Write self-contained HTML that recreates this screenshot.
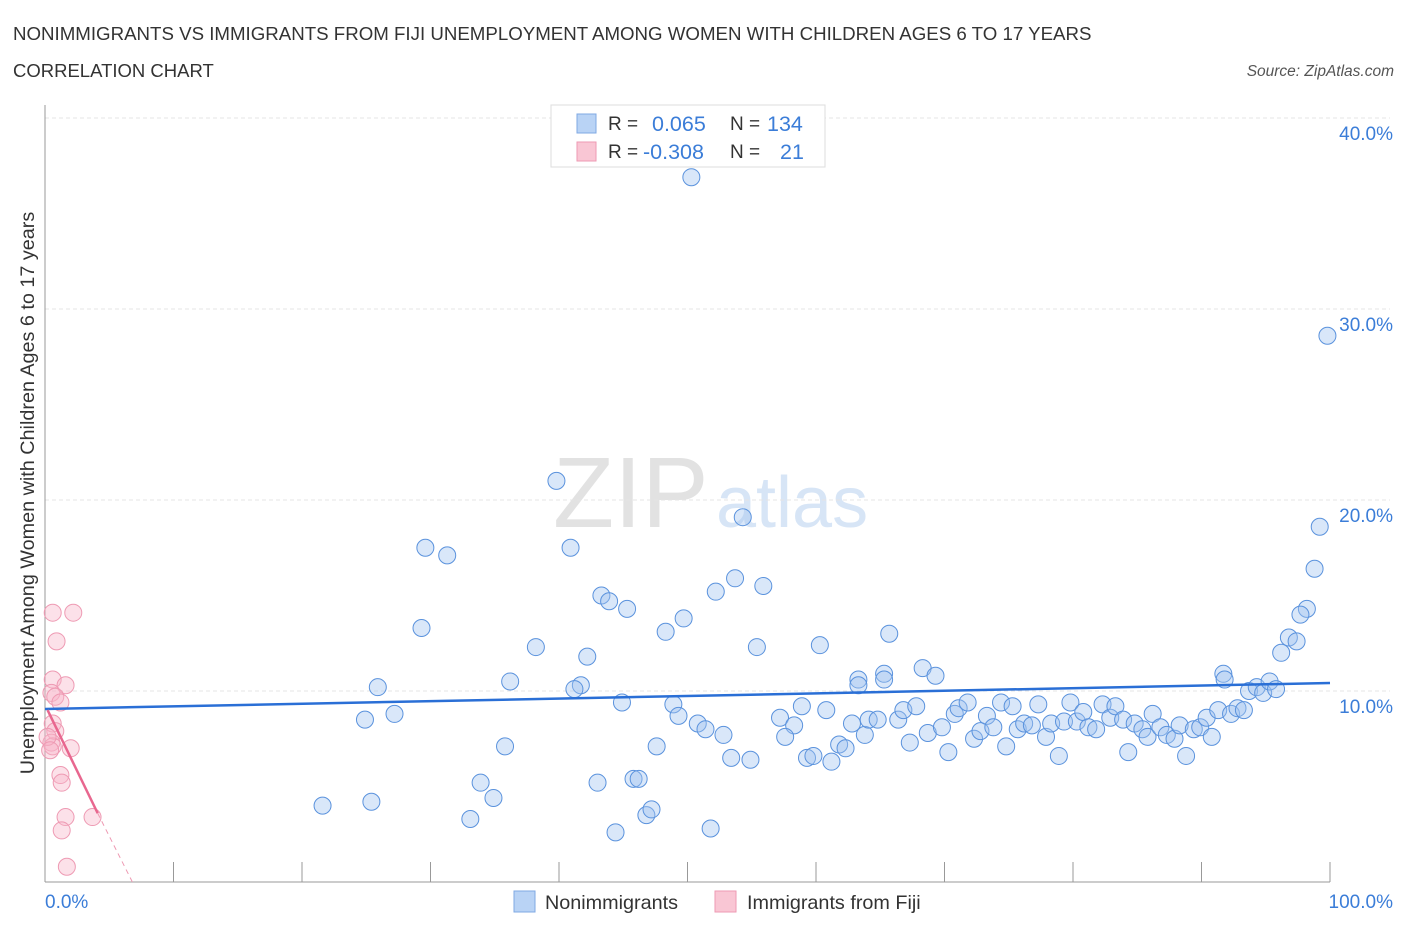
<!DOCTYPE html>
<html><head><meta charset="utf-8"><style>
body{margin:0;background:#fff;font-family:"Liberation Sans",sans-serif;}
svg text{font-family:"Liberation Sans",sans-serif;}
</style></head><body>
<svg width="1406" height="930" xmlns="http://www.w3.org/2000/svg">
<text x="13" y="40" font-size="18.7" fill="#333">NONIMMIGRANTS VS IMMIGRANTS FROM FIJI UNEMPLOYMENT AMONG WOMEN WITH CHILDREN AGES 6 TO 17 YEARS</text>
<text x="13" y="77" font-size="18.5" fill="#333">CORRELATION CHART</text>
<text x="1394" y="76" font-size="15.5" fill="#555" font-style="italic" text-anchor="end">Source: ZipAtlas.com</text>
<g>
<text x="553" y="527" font-size="100" fill="#e2e2e2" font-family="Liberation Serif">ZIP</text>
<text x="716" y="527" font-size="72" fill="#d7e5f6">atlas</text>
</g>
<g id="grid"></g><g id="axes"></g><g id="marks"></g>
<text transform="translate(34,493) rotate(-90)" font-size="19.8" fill="#333" text-anchor="middle">Unemployment Among Women with Children Ages 6 to 17 years</text>
<text x="45" y="908" font-size="19" fill="#3b7dd8">0.0%</text>
<text x="1393" y="908" font-size="19" fill="#3b7dd8" text-anchor="end">100.0%</text>
<g>
<rect x="551" y="105" width="274" height="62" fill="#fff" stroke="#ddd"/>
<rect x="577" y="114" width="19" height="19" fill="#b9d3f5" stroke="#7fa8e3"/>
<rect x="577" y="142" width="19" height="19" fill="#f9c6d4" stroke="#ee9ab3"/>
<text x="608" y="130" font-size="19" fill="#333">R =</text><text x="652" y="131" font-size="21.5" fill="#3b7dd8">0.065</text>
<text x="730" y="130" font-size="19" fill="#333">N =</text><text x="767" y="131" font-size="21.5" fill="#3b7dd8">134</text>
<text x="608" y="158" font-size="19" fill="#333">R =</text><text x="643" y="159" font-size="21.5" fill="#3b7dd8">-0.308</text>
<text x="730" y="158" font-size="19" fill="#333">N =</text><text x="780" y="159" font-size="21.5" fill="#3b7dd8">21</text>
</g>
<g>
<rect x="514" y="891" width="21" height="21" fill="#b9d3f5" stroke="#7fa8e3"/>
<text x="545" y="909" font-size="19.8" fill="#333">Nonimmigrants</text>
<rect x="715" y="891" width="21" height="21" fill="#f9c6d4" stroke="#ee9ab3"/>
<text x="747" y="909" font-size="19.8" fill="#333">Immigrants from Fiji</text>
</g>
</svg>
<script>
const yTicks=[10,20,30,40];
const yTickLabels=["10.0%","20.0%","30.0%","40.0%"];
const xTicks=[10,20,30,40,50,60,70,80,90,100];
const blueX=[50.3,99.8,39.8,54.3,99.2,29.6,31.3,40.9,98.8,53.7,55.9,52.2,43.3,43.9,45.3,98.2,97.7,29.3,49.7,48.3,65.7,96.8,97.4,96.2,38.2,55.4,60.3,42.2,68.3,91.7,69.3,63.3,65.3,36.2,25.9,41.7,41.2,24.9,27.2,35.8,21.6,25.4,33.9,34.9,33.1,43.0,45.8,46.2,46.8,47.2,44.4,51.8,47.6,44.9,53.4,54.9,52.8,50.8,51.4,48.9,49.3,
57.2,58.3,57.6,58.9,60.8,59.3,59.8,61.2,61.8,62.3,62.8,63.3,63.8,64.1,64.8,65.3,66.4,66.8,67.3,67.8,68.7,69.8,70.3,70.8,71.1,71.8,72.3,72.8,73.3,73.8,74.4,74.8,75.3,75.7,76.2,76.8,77.3,77.9,78.3,78.9,79.3,79.8,80.3,80.8,81.2,81.8,82.3,82.9,83.3,83.9,84.3,84.8,85.4,85.8,86.2,86.8,87.3,87.9,88.3,88.8,89.4,89.9,90.4,90.8,91.3,91.8,92.3,92.8,93.3,93.7,94.3,94.8,95.3,95.8];
const blueY=[36.9,28.6,21.0,19.1,18.6,17.5,17.1,17.5,16.4,15.9,15.5,15.2,15.0,14.7,14.3,14.3,14.0,13.3,13.8,13.1,13.0,12.8,12.6,12.0,12.3,12.3,12.4,11.8,11.2,10.9,10.8,10.6,10.9,10.5,10.2,10.3,10.1,8.5,8.8,7.1,4.0,4.2,5.2,4.4,3.3,5.2,5.4,5.4,3.5,3.8,2.6,2.8,7.1,9.4,6.5,6.4,7.7,8.3,8.0,9.3,8.7,
8.6,8.2,7.6,9.2,9.0,6.5,6.6,6.3,7.2,7.0,8.3,10.3,7.7,8.5,8.5,10.6,8.5,9.0,7.3,9.2,7.8,8.1,6.8,8.8,9.1,9.4,7.5,7.9,8.7,8.1,9.4,7.1,9.2,8.0,8.3,8.2,9.3,7.6,8.3,6.6,8.4,9.4,8.4,8.9,8.1,8.0,9.3,8.6,9.2,8.5,6.8,8.3,8.0,7.6,8.8,8.1,7.7,7.5,8.2,6.6,8.0,8.1,8.6,7.6,9.0,10.6,8.8,9.1,9.0,10.0,10.2,9.9,10.5,10.1];
const pinkX=[0.6,2.2,0.9,0.6,1.6,0.5,0.8,1.2,0.6,0.8,0.5,0.6,2.0,1.2,1.3,1.6,3.7,1.3,1.7,0.2,0.4];
const pinkY=[14.1,14.1,12.6,10.6,10.3,9.9,9.7,9.4,8.3,7.9,7.3,7.1,7.0,5.6,5.2,3.4,3.4,2.7,0.8,7.6,6.9];
const blueTrend=[[0,9.06],[100,10.42]];
const pinkTrend=[[0.2,9.0],[4.1,3.6]];
const pinkTrendDash=[[4.1,3.6],[6.8,0]];

const X=v=>45+v*12.85, Y=v=>882-v*19.1;
const NS="http://www.w3.org/2000/svg";
function mk(t,a,p){const e=document.createElementNS(NS,t);for(const k in a)e.setAttribute(k,a[k]);p.appendChild(e);return e;}
const grid=document.getElementById('grid'),axes=document.getElementById('axes'),marks=document.getElementById('marks');
yTicks.forEach((t,i)=>{
 const l=mk('line',{x1:45,x2:1390,y1:Y(t),y2:Y(t),stroke:'#e4e4e4','stroke-dasharray':'4,3'},grid);
 
 
 const tx=mk('text',{x:1393,y:Y(t)+22,'font-size':19,fill:'#3b7dd8','text-anchor':'end'},grid);
 tx.textContent=yTickLabels[i];
 
 
});
let a=mk('line',{x1:45,x2:45,y1:105,y2:882,stroke:'#999'},axes);


a=mk('line',{x1:45,x2:1330,y1:882,y2:882,stroke:'#999'},axes);


xTicks.forEach(t=>{
 const l=mk('line',{x1:X(t),x2:X(t),y1:862,y2:882,stroke:'#999'},axes);
 
 
});
blueX.forEach((v,i)=>{
 const c=mk('circle',{cx:X(v),cy:Y(blueY[i]),r:8.5,fill:'rgba(160,196,240,0.4)',stroke:'#5a92dd','stroke-width':1},marks);
 
 
});
pinkX.forEach((v,i)=>{
 const c=mk('circle',{cx:X(v),cy:Y(pinkY[i]),r:8.5,fill:'rgba(248,180,200,0.4)',stroke:'#ee9ab3','stroke-width':1},marks);
 
 
});
let t=mk('line',{x1:X(blueTrend[0][0]),y1:Y(blueTrend[0][1]),x2:X(blueTrend[1][0]),y2:Y(blueTrend[1][1]),stroke:'#2a6fd6','stroke-width':2.5},marks);


t=mk('line',{x1:X(pinkTrend[0][0]),y1:Y(pinkTrend[0][1]),x2:X(pinkTrend[1][0]),y2:Y(pinkTrend[1][1]),stroke:'#e8678f','stroke-width':2.5},marks);


t=mk('line',{x1:X(pinkTrendDash[0][0]),y1:Y(pinkTrendDash[0][1]),x2:X(pinkTrendDash[1][0]),y2:Y(pinkTrendDash[1][1]),stroke:'#ee9ab3','stroke-width':1,'stroke-dasharray':'5,4'},marks);


</script>
</body></html>
